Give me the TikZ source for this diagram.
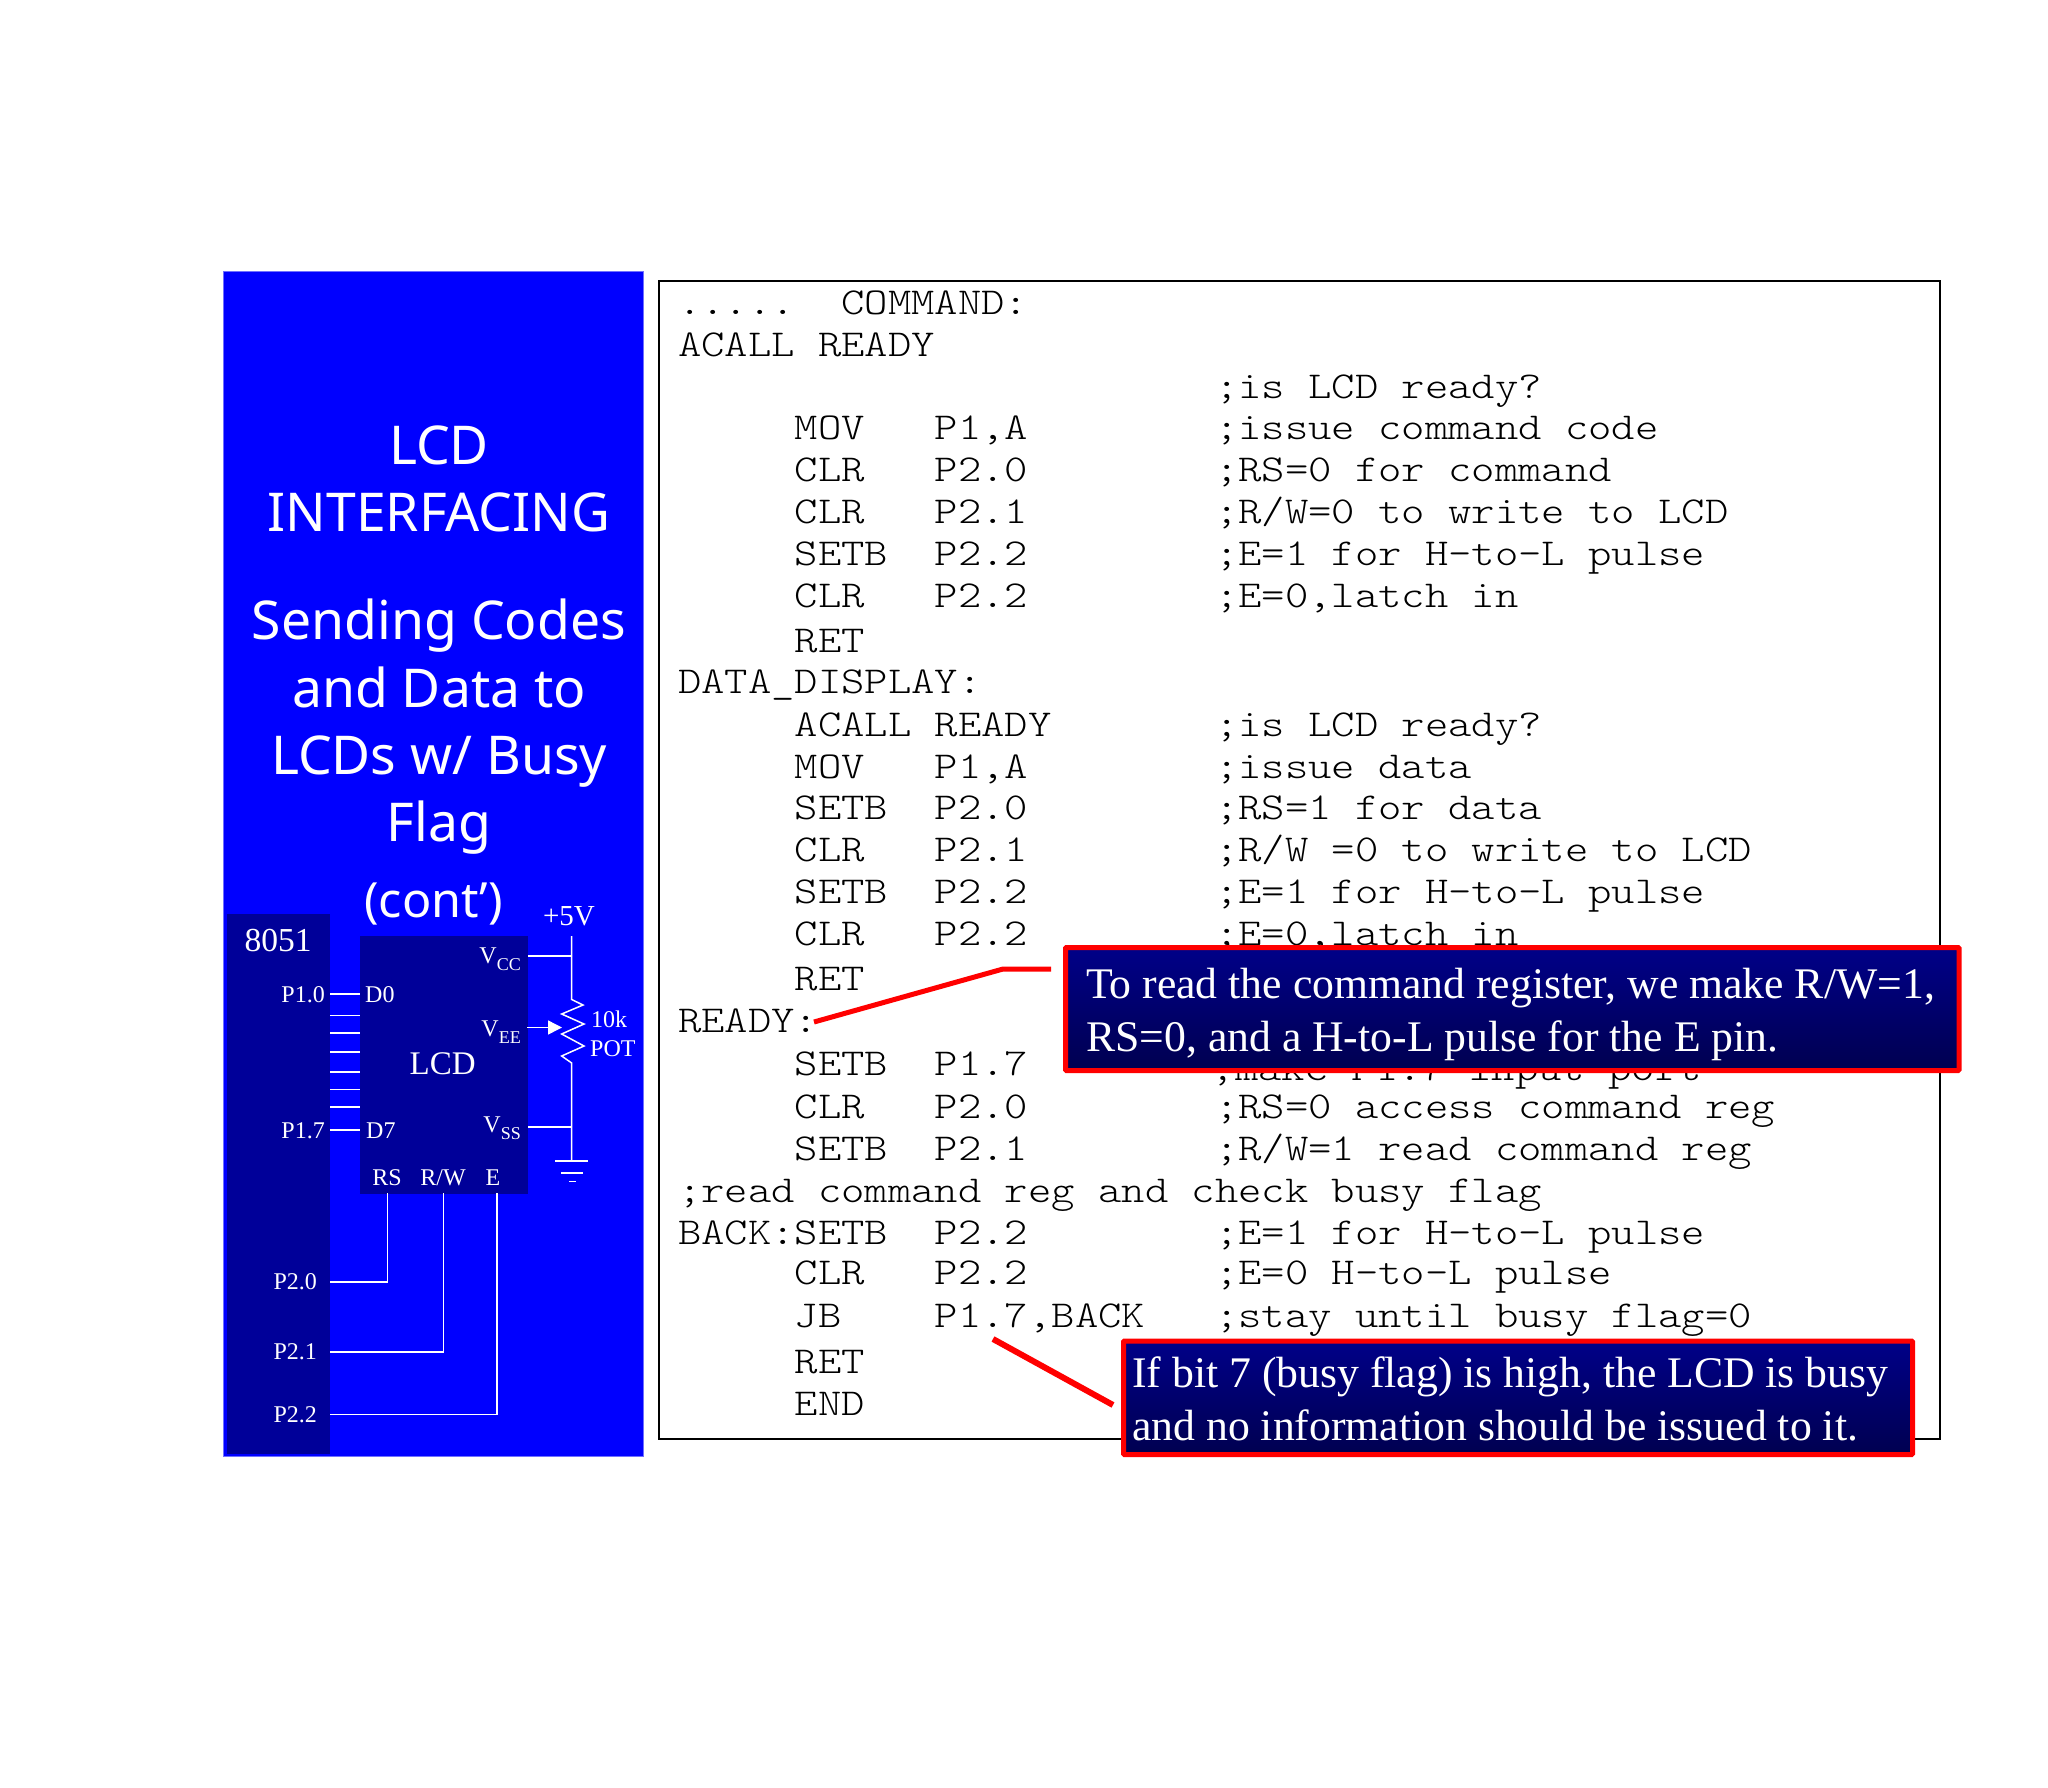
\documentclass[tikz,border=0pt]{standalone}
\usepackage{fontspec}
\setmainfont{Liberation Serif}
\newfontfamily\titlefont{Noto Sans}
\newfontfamily\codefont[FakeStretch=1.17]{Latin Modern Mono Light}
\usetikzlibrary{arrows.meta}
\definecolor{panelblue}{HTML}{0000FF}
\definecolor{paneledge}{HTML}{7070FF}
\definecolor{darkblue}{HTML}{000099}
\definecolor{calltop}{HTML}{000088}
\definecolor{callmid}{HTML}{000096}
\definecolor{callbot}{HTML}{000050}
\newcommand\vsb[1]{V\raisebox{-.28em}{\fontsize{18}{18}\selectfont #1}}
\tikzset{
  codeline/.style={anchor=base west,inner sep=0pt,font=\codefont\fontsize{38}{38}\selectfont},
  titleline/.style={inner sep=0pt,text=white,anchor=base,font=\titlefont\fontsize{53.5}{53.5}\selectfont},
  pin/.style={inner sep=0pt,text=white,font=\fontsize{24}{24}\selectfont},
  wire/.style={draw=white,line width=1.5pt},
  leader/.style={draw=red,line width=5pt},
  callout/.style={draw=red,line width=5pt,rounded corners=1pt,outer sep=0pt,top color=calltop,middle color=callmid,bottom color=callbot,inner sep=0pt,anchor=north west},
  calltext/.style={anchor=base west,inner sep=0pt,text=white,font=\fontsize{43.7}{43.7}\selectfont}
}
\begin{document}
\begin{tikzpicture}[x=1pt,y=-1pt]
\useasboundingbox (0,0) rectangle (2048,1788);
% left panel
\fill[panelblue,draw=paneledge,line width=1pt] (223.5,271.5) rectangle (643,1456);
\fill[darkblue] (227,914) rectangle (330,1454);
\fill[darkblue] (360,936) rectangle (528,1194);
\node[titleline] (t1) at (439,464) {LCD};
\node[titleline] (t2) at (439,531) {INTERFACING};
\node[titleline] (t3) at (439,639) {Sending Codes};
\node[titleline] (t4) at (439,707) {and Data to};
\node[titleline] (t5) at (439,774) {LCDs w/ Busy};
\node[titleline] (t6) at (439,841) {Flag};
\node[titleline,font=\titlefont\fontsize{48.5}{48.5}\selectfont] (t7) at (433.6,917) {(cont’)};
\node[pin,font=\fontsize{33.5}{33.5}\selectfont] (chip) at (278,941) {8051};
\node[pin,font=\fontsize{33}{33}\selectfont] (lcd) at (442.7,1063.5) {LCD};
\node[pin,anchor=east] (p10) at (325,995) {P1.0};
\node[pin,anchor=east] (p17) at (325,1131) {P1.7};
\node[pin,anchor=west] (p20) at (273.3,1282) {P2.0};
\node[pin,anchor=west] (p21) at (273.3,1352) {P2.1};
\node[pin,anchor=west] (p22) at (273.3,1415) {P2.2};
\node[pin,anchor=west] (d0) at (365,995) {D0};
\node[pin,anchor=west] (d7) at (366,1131) {D7};
\node[pin,anchor=east] (vcc) at (521,959) {\vsb{CC}};
\node[pin,anchor=east] (vee) at (521,1032) {\vsb{EE}};
\node[pin,anchor=east] (vss) at (521,1128) {\vsb{SS}};
\node[pin] (rs) at (387,1178) {RS};
\node[pin] (rw) at (443,1178) {R/W};
\node[pin] (e) at (493,1178) {E};
\node[pin,font=\fontsize{29}{29}\selectfont] (vp) at (569,916) {+5V};
\node[pin,anchor=west] (tenk) at (591,1019) {10k};
\node[pin,anchor=west] (pot) at (590,1049) {POT};
% wires
\foreach \y in {994,1015.5,1033,1052,1072,1089.5,1107,1130} \draw[wire] (330,\y) -- (360,\y);
\draw[wire] (330,1282) -- (387.7,1282) -- (387.7,1193);
\draw[wire] (330,1352) -- (443.7,1352) -- (443.7,1193);
\draw[wire] (330,1414.5) -- (497,1414.5) -- (497,1193);
\draw[wire] (528,956) -- (571.7,956);
\draw[wire] (528,1127) -- (571.7,1127);
\draw[wire] (571.7,936) -- (571.7,999.5) -- (583,1005) -- (561.7,1014) -- (584,1024) -- (561.7,1034) -- (584,1046) -- (561.7,1056) -- (571.7,1063) -- (571.7,1161);
\draw[wire] (555,1161) -- (588,1161);
\draw[wire] (561,1173) -- (583,1173);
\draw[wire] (569,1181.5) -- (576,1181.5);
\draw[wire,-{Triangle[length=14pt,width=14pt,fill=white]}] (527,1027.5) -- (562,1027.5);
% code box
\draw[black,line width=1.6pt] (659,281) rectangle (1940,1439);
\node[codeline] (c01) at (678,314) {.....~~COMMAND:};
\node[codeline] (c02) at (678,356) {ACALL READY};
\node[codeline] (c03) at (678,398) {~~~~~~~~~~~~~~~~~~~~~~~;is LCD ready?};
\node[codeline] (c04) at (678,439) {~~~~~MOV~~~P1,A~~~~~~~~;issue command code};
\node[codeline] (c05) at (678,481) {~~~~~CLR~~~P2.0~~~~~~~~;RS=0 for command};
\node[codeline] (c06) at (678,523) {~~~~~CLR~~~P2.1~~~~~~~~;R/W=0 to write to LCD};
\node[codeline] (c07) at (678,565) {~~~~~SETB~~P2.2~~~~~~~~;E=1 for H-to-L pulse};
\node[codeline] (c08) at (678,607) {~~~~~CLR~~~P2.2~~~~~~~~;E=0,latch in};
\node[codeline] (c09) at (678,652) {~~~~~RET};
\node[codeline] (c10) at (678,693) {DATA\_DISPLAY:};
\node[codeline] (c11) at (678,736) {~~~~~ACALL READY~~~~~~~;is LCD ready?};
\node[codeline] (c12) at (678,778) {~~~~~MOV~~~P1,A~~~~~~~~;issue data};
\node[codeline] (c13) at (678,819) {~~~~~SETB~~P2.0~~~~~~~~;RS=1 for data};
\node[codeline] (c14) at (678,861) {~~~~~CLR~~~P2.1~~~~~~~~;R/W =0 to write to LCD};
\node[codeline] (c15) at (678,903) {~~~~~SETB~~P2.2~~~~~~~~;E=1 for H-to-L pulse};
\node[codeline] (c16) at (678,945) {~~~~~CLR~~~P2.2~~~~~~~~;E=0,latch in};
\node[codeline] (c17) at (678,990) {~~~~~RET};
\node[codeline] (c18) at (678,1032) {READY:};
\node[codeline] (c19) at (678,1075) {~~~~~SETB~~P1.7};
\node[codeline] (c19b) at (1211.5,1080) {;make P1.7 input port};
\node[codeline] (c20) at (678,1118) {~~~~~CLR~~~P2.0~~~~~~~~;RS=0 access command reg};
\node[codeline] (c21) at (678,1160) {~~~~~SETB~~P2.1~~~~~~~~;R/W=1 read command reg};
\node[codeline] (c22) at (678,1202) {;read command reg and check busy flag};
\node[codeline] (c23) at (678,1244) {BACK:SETB~~P2.2~~~~~~~~;E=1 for H-to-L pulse};
\node[codeline] (c24) at (678,1284) {~~~~~CLR~~~P2.2~~~~~~~~;E=0 H-to-L pulse};
\node[codeline] (c25) at (678,1327) {~~~~~JB~~~~P1.7,BACK~~~;stay until busy flag=0};
\node[codeline] (c26) at (678,1373) {~~~~~RET};
\node[codeline] (c27) at (678,1415) {~~~~~END};
% callouts
\coordinate (a1) at (814,1022);
\coordinate (a2) at (1003,969);
\coordinate (a3) at (1051,969);
\draw[leader] (a1) -- (a2) -- (a3);
\coordinate (b1) at (993,1339);
\coordinate (b2) at (1113,1405);
\draw[leader,line width=6pt] (b1) -- (b2);
\node[callout,minimum width=893.5pt,minimum height=123pt] (box1) at (1065.5,947.5) {};
\node[calltext] (b1a) at (1086,998) {To read the command register, we make R/W=1,};
\node[calltext] (b1b) at (1086,1051) {RS=0, and a H-to-L pulse for the E pin.};
\node[callout,minimum width=789pt,minimum height=113.5pt] (box2) at (1123.5,1341) {};
\node[calltext] (b2a) at (1132,1387) {If bit 7 (busy flag) is high, the LCD is busy};
\node[calltext] (b2b) at (1132,1440) {and no information should be issued to it.};
\end{tikzpicture}
\end{document}
